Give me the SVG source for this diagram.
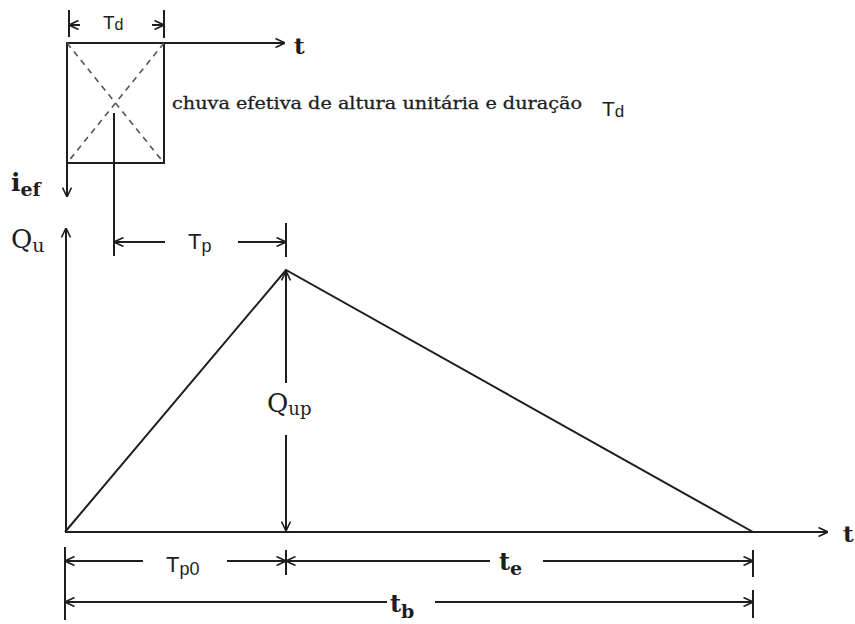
<svg xmlns="http://www.w3.org/2000/svg" width="855" height="624" viewBox="0 0 855 624">
<style>
.ln{stroke:#1e1e1e;stroke-width:2;fill:none}
.dash{stroke:#555;stroke-width:1.6;stroke-dasharray:6,5;fill:none}
.sans{font-family:"Liberation Sans",Arial,sans-serif;fill:#1e1e1e}
.serif{font-family:"DejaVu Serif","Liberation Serif",serif;fill:#1e1e1e}
.bold{font-weight:bold}
</style>
<defs>
<marker id="ah" viewBox="0 0 10 10" refX="10" refY="5" markerWidth="10" markerHeight="10" markerUnits="userSpaceOnUse" orient="auto-start-reverse">
<path d="M0.5,0.5 L10,5 L0.5,9.5" fill="none" stroke="#1e1e1e" stroke-width="1.6"/>
</marker>
</defs>
<rect width="855" height="624" fill="#ffffff"/>

<g id="rain-block">
<rect x="67" y="43" width="97" height="120" class="ln"/>
<line x1="67" y1="43" x2="164" y2="163" class="dash"/>
<line x1="164" y1="43" x2="67" y2="163" class="dash"/>
<text x="172" y="109" class="serif" font-size="17" stroke="#1e1e1e" stroke-width="0.3" textLength="410" lengthAdjust="spacingAndGlyphs">chuva efetiva de altura unitária e duração</text>
<text x="602" y="116" class="sans" font-size="21">T<tspan font-size="17" dy="1">d</tspan></text>
</g>

<g id="hydrograph">
<polyline points="65,532 286,270 753,532" class="ln" stroke-width="1.8"/>
<text x="267" y="412" class="serif" font-size="26">Q<tspan font-size="18" dy="3">up</tspan></text>
</g>

<g id="labels">
<text x="103" y="29" class="sans" font-size="19">T<tspan font-size="16" dy="1">d</tspan></text>
<text x="294" y="54" class="serif bold" font-size="23">t</text>
<text x="11" y="191" class="serif bold" font-size="25">i<tspan font-size="19" dy="5">ef</tspan></text>
<text x="11" y="248" class="serif" font-size="26">Q<tspan font-size="19" dy="4">u</tspan></text>
<text x="188" y="249" class="sans" font-size="22">T<tspan font-size="18" dy="3">p</tspan></text>
<text x="843" y="542" class="serif bold" font-size="23">t</text>
<text x="166" y="572" class="sans" font-size="22">T<tspan font-size="18" dy="3">p0</tspan></text>
<text x="499" y="570" class="serif bold" font-size="24">t<tspan font-size="19" dy="5">e</tspan></text>
<text x="390" y="612" class="serif bold" font-size="24">t<tspan font-size="19" dy="6">b</tspan></text>
</g>

<g id="connectors">
<line x1="164" y1="43" x2="285" y2="43" class="ln" marker-end="url(#ah)"/>
<line x1="67" y1="163" x2="67" y2="197" class="ln" marker-end="url(#ah)"/>
<line x1="69" y1="10" x2="69" y2="37" class="ln"/>
<line x1="164" y1="10" x2="164" y2="38" class="ln"/>
<line x1="80" y1="25" x2="69" y2="25" class="ln" marker-end="url(#ah)"/>
<line x1="152" y1="25" x2="164" y2="25" class="ln" marker-end="url(#ah)"/>
<line x1="114" y1="113" x2="114" y2="256" class="ln"/>
<line x1="165" y1="242" x2="114" y2="242" class="ln" marker-end="url(#ah)"/>
<line x1="238" y1="242" x2="286" y2="242" class="ln" marker-end="url(#ah)"/>
<line x1="286" y1="223" x2="286" y2="257" class="ln"/>
<line x1="66" y1="532" x2="66" y2="228" class="ln" marker-end="url(#ah)"/>
<line x1="65" y1="532" x2="828" y2="532" class="ln" marker-end="url(#ah)"/>
<line x1="286" y1="383" x2="286" y2="271" class="ln" marker-end="url(#ah)"/>
<line x1="286" y1="435" x2="286" y2="531" class="ln" marker-end="url(#ah)"/>
<line x1="65" y1="547" x2="65" y2="620" class="ln"/>
<line x1="286" y1="550" x2="286" y2="575" class="ln"/>
<line x1="753" y1="550" x2="753" y2="577" class="ln"/>
<line x1="753" y1="590" x2="753" y2="618" class="ln"/>
<line x1="143" y1="561" x2="65" y2="561" class="ln" marker-end="url(#ah)"/>
<line x1="227" y1="561" x2="286" y2="561" class="ln" marker-end="url(#ah)"/>
<line x1="490" y1="561" x2="286" y2="561" class="ln" marker-end="url(#ah)"/>
<line x1="543" y1="561" x2="753" y2="561" class="ln" marker-end="url(#ah)"/>
<line x1="387" y1="602" x2="65" y2="602" class="ln" marker-end="url(#ah)"/>
<line x1="435" y1="602" x2="753" y2="602" class="ln" marker-end="url(#ah)"/>
</g>
</svg>
